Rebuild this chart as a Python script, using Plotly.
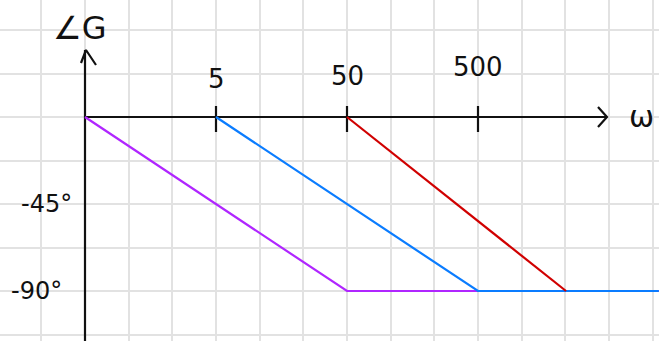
import math
import plotly.graph_objects as go

# Bode phase asymptotes (frequency in rad/s, phase in degrees)
purple_w = [0.5, 50, 12000]
purple_phase = [0, -90, -90]
blue_w = [5, 500, 12000]
blue_phase = [0, -90, -90]
red_w = [50, 2350]
red_phase = [0, -90]

x_tick_values = [5, 50, 500]
x_tick_labels = ["5", "50", "500"]
y_label_values = [-45, -90]
y_label_texts = ["-45°", "-90°"]

W, H = 659, 341
# screen mapping: one decade = 131 px, 90 degrees = 174 px
PX_PER_DEC = 131.0
PX_PER_DEG = 174.0 / 90.0
REF_L, REF_PX = math.log10(5), 216.0
ZERO_PY = 117.0


def lx(px):
    return REF_L + (px - REF_PX) / PX_PER_DEC


def wx(px):
    return 10 ** lx(px)


def dy(py):
    return (ZERO_PY - py) / PX_PER_DEG


origin_w = 0.5
axis_color = "#111111"
fig = go.Figure()

# axes drawn as strokes
fig.add_trace(go.Scatter(x=[origin_w, wx(607)], y=[0, 0], mode="lines",
                         line=dict(color=axis_color, width=2.2)))
fig.add_trace(go.Scatter(x=[origin_w, origin_w], y=[dy(345), dy(50)], mode="lines",
                         line=dict(color=axis_color, width=2.2)))
# open arrowheads
fig.add_trace(go.Scatter(x=[wx(598), wx(607), wx(598)], y=[dy(107), dy(117), dy(127)],
                         mode="lines", line=dict(color=axis_color, width=2.2)))
fig.add_trace(go.Scatter(x=[wx(81), wx(86), wx(96)], y=[dy(63), dy(50), dy(65)],
                         mode="lines", line=dict(color=axis_color, width=2.2)))
# tick marks on the frequency axis
for w in x_tick_values:
    fig.add_trace(go.Scatter(x=[w, w], y=[dy(106), dy(132)], mode="lines",
                             line=dict(color=axis_color, width=2.2)))

# asymptote curves
fig.add_trace(go.Scatter(x=purple_w, y=purple_phase, mode="lines",
                         line=dict(color="#b026ff", width=2.2)))
fig.add_trace(go.Scatter(x=blue_w, y=blue_phase, mode="lines",
                         line=dict(color="#0a7cff", width=2.2)))
fig.add_trace(go.Scatter(x=red_w, y=red_phase, mode="lines",
                         line=dict(color="#d00000", width=2.2)))

font = dict(family="DejaVu Sans", size=26, color=axis_color)
annotations = []
label_py = [79, 76, 67]
for w, t, py in zip(x_tick_values, x_tick_labels, label_py):
    annotations.append(dict(x=math.log10(w), y=dy(py), text=t, showarrow=False,
                            font=font, xanchor="center", yanchor="middle"))
for v, t, px in zip(y_label_values, y_label_texts, [46, 36]):
    annotations.append(dict(x=lx(px), y=v, text=t, showarrow=False,
                            font=dict(family="DejaVu Sans", size=24, color=axis_color),
                            xanchor="center", yanchor="middle"))
annotations.append(dict(x=lx(79), y=dy(28), text="∠G", showarrow=False,
                        font=dict(family="DejaVu Sans", size=32, color=axis_color),
                        xanchor="center", yanchor="middle"))
annotations.append(dict(x=lx(641), y=dy(116), text="ω", showarrow=False,
                        font=dict(family="DejaVu Sans", size=30, color=axis_color),
                        xanchor="center", yanchor="middle"))

grid = "#e2e2e2"
fig.update_layout(
    width=W, height=H, margin=dict(l=0, r=0, t=0, b=0),
    paper_bgcolor="white", plot_bgcolor="white", showlegend=False,
    annotations=annotations,
    xaxis=dict(type="log", range=[lx(0), lx(W)], tick0=math.log10(origin_w), dtick=1 / 3,
               showgrid=True, gridcolor=grid, gridwidth=2, showticklabels=False,
               zeroline=False, showline=False, ticks="", fixedrange=True),
    yaxis=dict(range=[dy(H), dy(0)], tick0=0, dtick=22.5,
               showgrid=True, gridcolor=grid, gridwidth=2, showticklabels=False,
               zeroline=False, showline=False, ticks="", fixedrange=True),
)
fig.write_html("out.html", config={"displayModeBar": False})
